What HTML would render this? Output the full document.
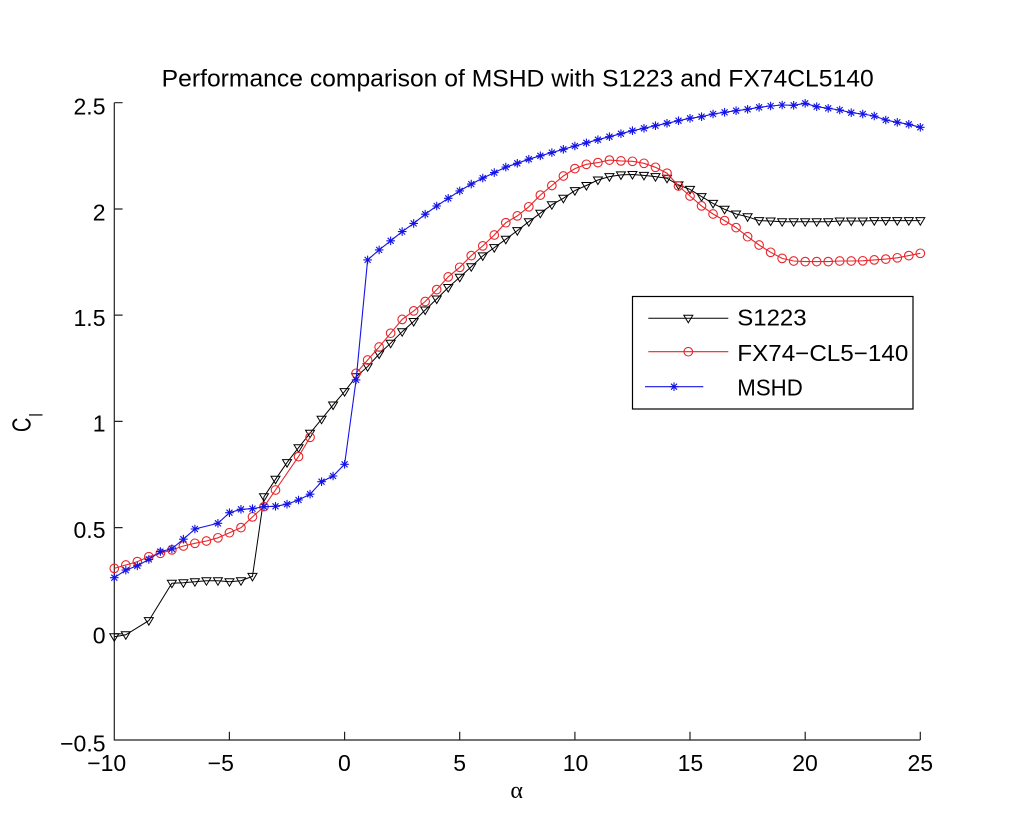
<!DOCTYPE html>
<html>
<head>
<meta charset="utf-8">
<style>
html,body{margin:0;padding:0;background:#fff;}
svg{display:block;}
text{font-family:"Liberation Sans",Arial,sans-serif;fill:#000;}
</style>
</head>
<body>
<svg width="1024" height="836" viewBox="0 0 1024 836" xmlns="http://www.w3.org/2000/svg">
<defs>
<marker id="mt" viewBox="-7 -7 14 14" refX="0" refY="0" markerWidth="14" markerHeight="14" markerUnits="userSpaceOnUse" orient="0" overflow="visible">
<path d="M-4.5,-3L4.5,-3L0,4.5Z" fill="none" stroke="#000" stroke-width="1"/>
</marker>
<marker id="mc" viewBox="-7 -7 14 14" refX="0" refY="0" markerWidth="14" markerHeight="14" markerUnits="userSpaceOnUse" orient="0" overflow="visible">
<circle cx="0" cy="0" r="4.3" fill="none" stroke="#e8262b" stroke-width="1.1"/>
</marker>
<marker id="ms" viewBox="-7 -7 14 14" refX="0" refY="0" markerWidth="14" markerHeight="14" markerUnits="userSpaceOnUse" orient="0" overflow="visible">
<path d="M-4.3,0H4.3M0,-4.3V4.3M-3,-3L3,3M-3,3L3,-3" fill="none" stroke="#1414e6" stroke-width="1.1"/>
</marker>
</defs>

<!-- title -->
<text x="161.7" y="86.5" font-size="24.5" textLength="712" lengthAdjust="spacingAndGlyphs">Performance comparison of MSHD with S1223 and FX74CL5140</text>

<!-- axes -->
<g stroke="#222" stroke-width="1.2" fill="none">
<path d="M114.3,102.7V740H920.3"/>
<path d="M114.3,102.7h8.3M114.3,209h8.3M114.3,315.1h8.3M114.3,421.4h8.3M114.3,527.6h8.3M114.3,633.8h8.3"/>
<path d="M229.4,740v-8.3M344.6,740v-8.3M459.7,740v-8.3M574.9,740v-8.3M690,740v-8.3M805.2,740v-8.3M920.3,740v-8.3"/>
</g>

<!-- y tick labels -->
<g font-size="23" text-anchor="end">
<text x="105.5" y="114.3">2.5</text>
<text x="105.5" y="220.5">2</text>
<text x="105.5" y="326">1.5</text>
<text x="105.5" y="431.7">1</text>
<text x="105.5" y="538">0.5</text>
<text x="105.5" y="643.5">0</text>
<text x="105.5" y="751.5">−0.5</text>
</g>

<!-- x tick labels -->
<g font-size="23" text-anchor="middle">
<text x="106.7" y="771">−10</text>
<text x="220.8" y="771">−5</text>
<text x="344.4" y="771">0</text>
<text x="459.7" y="771">5</text>
<text x="575.5" y="771">10</text>
<text x="690.4" y="771">15</text>
<text x="805" y="771">20</text>
<text x="920.3" y="771">25</text>
</g>

<!-- axis labels -->
<text x="516.7" y="798" font-size="24" text-anchor="middle" style="font-family:'Liberation Serif','DejaVu Serif',serif">α</text>
<text transform="translate(30.7,432) rotate(-90) scale(1,1.3)" font-size="20">C<tspan dx="1" dy="9.2" font-size="14">l</tspan></text>

<!-- S1223 -->
<polyline fill="none" stroke="#000" stroke-width="1" marker-start="url(#mt)" marker-mid="url(#mt)" marker-end="url(#mt)" points="114.3,636.8 125.81,634.8 148.84,620.6 171.87,583.2 183.39,582.8 194.9,581.7 206.42,580.7 217.93,580.7 229.45,581.7 240.96,580.7 252.47,576.4 263.99,496.8 275.5,479.3 287.02,462.6 298.53,447.7 310.05,433.2 321.56,419.2 333.08,405 344.59,391.6 356.1,376.7 367.62,366.7 379.13,354 390.65,343.2 402.16,331.7 413.68,321.5 425.19,310 436.71,299 448.22,287.5 459.74,277.3 471.25,266.7 482.76,255.9 494.28,247.6 505.79,239.3 517.31,230.6 528.82,221.7 540.34,213.2 551.85,204.7 563.37,198.3 574.88,190.6 586.39,185.5 597.91,180 609.42,176.6 620.94,174.9 632.45,174.5 643.97,175.4 655.48,176.6 667,178.3 678.51,184.9 690.03,189.4 701.54,196.6 713.05,203.4 724.57,209.3 736.08,214 747.6,216.8 759.11,220.6 770.63,221 782.14,221.7 793.66,221.7 805.17,221.7 816.68,221.7 828.2,221.7 839.71,221 851.23,221 862.74,221 874.26,220.6 885.77,220.6 897.29,220.6 908.8,220.6 920.32,220.6"/>

<!-- FX74-CL5-140 -->
<g fill="none" stroke="#e8262b" stroke-width="1.1">
<polyline marker-start="url(#mc)" marker-mid="url(#mc)" marker-end="url(#mc)" points="114.3,568.4 125.81,565 137.33,561.6 148.84,556.7 160.36,553.3 171.87,549.9 183.39,546 194.9,543.3 206.42,541 217.93,537.8 229.45,532.7 240.96,527.6 252.47,516.9 263.99,506.7 275.5,490 298.53,456.6 310.05,437.3"/>
<polyline marker-start="url(#mc)" marker-mid="url(#mc)" marker-end="url(#mc)" points="356.1,373.3 367.62,360 379.13,347 390.65,333.2 402.16,319.4 413.68,310.9 425.19,301.5 436.71,289.6 448.22,276.9 459.74,267.3 471.25,255.6 482.76,245.9 494.28,235 505.79,222.7 517.31,215.9 528.82,206.8 540.34,195.1 551.85,185.5 563.37,176 574.88,168.6 586.39,164.3 597.91,162.6 609.42,160.1 620.94,160.9 632.45,161.3 643.97,163.3 655.48,167.3 667,173.2 678.51,186 690.03,196 701.54,205.9 713.05,214 724.57,220.6 736.08,227.6 747.6,236.7 759.11,245 770.63,252.3 782.14,258.4 793.66,261 805.17,261.6 816.68,261.6 828.2,261.6 839.71,261 851.23,261 862.74,260.8 874.26,259.9 885.77,259.1 897.29,257.8 908.8,255.6 920.32,253.3"/>
</g>

<!-- MSHD -->
<polyline fill="none" stroke="#1414e6" stroke-width="1.1" marker-start="url(#ms)" marker-mid="url(#ms)" marker-end="url(#ms)" points="114.3,577.7 125.81,570.1 137.33,565.8 148.84,559.4 160.36,551.6 171.87,548.8 183.39,539.2 194.9,529 217.93,523.3 229.45,512.7 240.96,509.3 252.47,508.7 263.99,506.7 275.5,506.3 287.02,504.2 298.53,500 310.05,494.2 321.56,481.7 333.08,476 344.59,464.3 356.1,379.9 367.62,259.9 379.13,249.9 390.65,240.8 402.16,231.6 413.68,223.4 425.19,214.2 436.71,206 448.22,198.3 459.74,190.9 471.25,184.1 482.76,178.1 494.28,172.6 505.79,167.1 517.31,163.3 528.82,159.2 540.34,155.8 551.85,152.6 563.37,149.3 574.88,146 586.39,142.8 597.91,139.7 609.42,136.7 620.94,133.7 632.45,130.7 643.97,128.3 655.48,125.7 667,123.3 678.51,120.7 690.03,118.3 701.54,116.7 713.05,114 724.57,112.3 736.08,110.7 747.6,109.3 759.11,107.3 770.63,106 782.14,105 793.66,105.3 805.17,103.3 816.68,106.7 828.2,108.3 839.71,110 851.23,112.7 862.74,114 874.26,116 885.77,120 897.29,122.3 908.8,124.3 920.32,127.3"/>

<!-- legend -->
<rect x="632.5" y="296.5" width="280.5" height="112.5" fill="#fff" stroke="#000" stroke-width="1.2"/>
<polyline fill="none" stroke="#000" stroke-width="1" marker-mid="url(#mt)" points="648.3,318.3 688.3,318.3 728.3,318.3"/>
<polyline fill="none" stroke="#e8262b" stroke-width="1.1" marker-mid="url(#mc)" points="648.3,351.7 688.3,351.7 728.3,351.7"/>
<polyline fill="none" stroke="#1414e6" stroke-width="1.1" marker-mid="url(#ms)" points="645,386.7 674,386.7 703.3,386.7"/>
<g font-size="23">
<text x="737.3" y="325.7" textLength="69.3" lengthAdjust="spacingAndGlyphs">S1223</text>
<text x="737.3" y="361" textLength="171" lengthAdjust="spacingAndGlyphs">FX74−CL5−140</text>
<text x="737.3" y="395.7" textLength="65.5" lengthAdjust="spacingAndGlyphs">MSHD</text>
</g>
</svg>
</body>
</html>
